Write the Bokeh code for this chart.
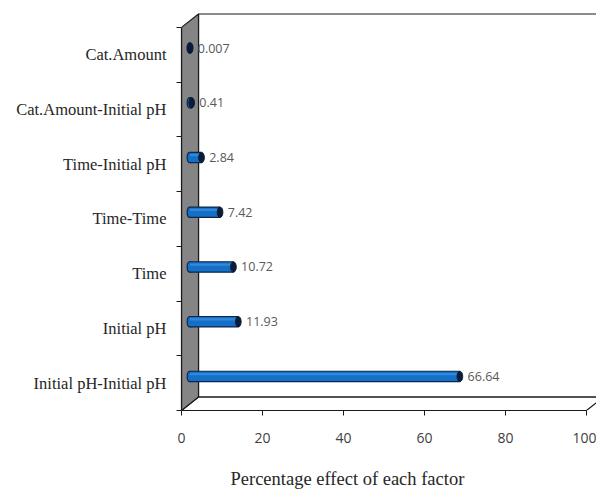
from bokeh.plotting import figure
from bokeh.models import FixedTicker, Range1d, Title, ColumnDataSource
from bokeh.core.properties import value
from bokeh.embed import file_html
from bokeh.resources import INLINE

# Factors from top to bottom of the chart and their percentage effects
factors = ["Cat.Amount", "Cat.Amount-Initial pH", "Time-Initial pH", "Time-Time",
           "Time", "Initial pH", "Initial pH-Initial pH"]
effects = [0.007, 0.41, 2.84, 7.42, 10.72, 11.93, 66.64]
effect_labels = ["0.007", "0.41", "2.84", "7.42", "10.72", "11.93", "66.64"]
x_ticks = [0, 20, 40, 60, 80, 100]

n = len(factors)
# bottom category sits at position 0
ypos = [n - 1 - i for i in range(n)]

# 3D box geometry (data units)
X0, X1 = 0.0, 100.0
Y0, Y1 = -0.5, n - 0.5
DX, DY = 4.2, 0.245          # depth of the box
MX, MY = DX / 2, DY / 2      # bars sit at mid depth

p = figure(width=596, height=494, output_backend="svg", toolbar_location=None,
           x_range=Range1d(0, 102.47), y_range=Range1d(Y0, 6.90),
           min_border_left=181, min_border_right=0, min_border_top=5,
           min_border_bottom=84)
p.outline_line_color = None
p.grid.grid_line_color = None
p.background_fill_color = "white"
p.border_fill_color = "white"

EDGE = "#1a1a1a"
# back wall
p.patch([X0 + DX, X1 + DX, X1 + DX, X0 + DX], [Y0 + DY, Y0 + DY, Y1 + DY, Y1 + DY],
        fill_color="white", line_color=EDGE, line_width=1.2)
# floor
p.patch([X0, X1, X1 + DX, X0 + DX], [Y0, Y0, Y0 + DY, Y0 + DY],
        fill_color="white", line_color=EDGE, line_width=1.2)
# left side wall
p.patch([X0, X0, X0 + DX, X0 + DX], [Y0, Y1, Y1 + DY, Y0 + DY],
        fill_color="#858585", line_color=EDGE, line_width=1.2)

# cylinder bars
bh = 0.19
src = ColumnDataSource(dict(
    y=[v + MY for v in ypos],
    ytop=[v + MY + bh / 2 for v in ypos],
    ybot=[v + MY - bh / 2 for v in ypos],
    left=[MX] * n,
    right=[e + MX for e in effects],
    lab=effect_labels,
    lx=[e + MX + 1.9 for e in effects],
))
BLUE, NAVY = "#136fc7", "#0d2747"
# rounded near end
p.ellipse(x="left", y="y", width=1.4, height=bh, source=src,
          fill_color=BLUE, line_color=NAVY, line_width=1.2)
# body
p.hbar(y="y", left="left", right="right", height=bh, source=src,
       fill_color=BLUE, line_color=None)
# lighter top sheen
p.hbar(y=[v + MY + bh * 0.22 for v in ypos], left=[MX] * n,
       right=[e + MX for e in effects], height=bh * 0.22,
       fill_color="#3d8fdc", line_color=None, fill_alpha=0.8)
# top and bottom edges of the cylinder
p.segment(x0="left", y0="ytop", x1="right", y1="ytop", source=src,
          line_color=NAVY, line_width=1.2)
p.segment(x0="left", y0="ybot", x1="right", y1="ybot", source=src,
          line_color=NAVY, line_width=1.2)
# dark far end cap
p.ellipse(x="right", y="y", width=1.4, height=bh, source=src,
          fill_color="#0b1d36", line_color="#0b1d36", line_width=1)

p.text(x="lx", y="y", text="lab", source=src, text_font=value("Open Sans"),
       text_font_size="12.5px", text_color="#595959", text_baseline="middle",
       text_align="left")

# x axis
xa = p.xaxis[0]
xa.ticker = FixedTicker(ticks=x_ticks)
xa.bounds = (X0, X1)
xa.axis_line_color = EDGE
xa.axis_line_width = 1.2
xa.major_tick_out = 5
xa.major_tick_in = 0
xa.major_tick_line_color = EDGE
xa.minor_tick_line_color = None
xa.major_label_standoff = 17
xa.major_label_text_font = "Open Sans"
xa.major_label_text_font_size = "14px"
xa.major_label_text_color = "#404040"

# axis title under the front face of the box (leading blank line sets it lower)
p.add_layout(Title(text="\nPercentage effect of each factor", align="left",
                   offset=49, standoff=0, vertical_align="top",
                   text_font="Liberation Serif", text_line_height=1.15,
                   text_font_size="18.5px", text_font_style="normal",
                   text_color="#262626"), "below")

# y axis: category names centred, ticks at category boundaries
ya = p.yaxis[0]
ya.ticker = FixedTicker(ticks=ypos, minor_ticks=[Y0 + k for k in range(n + 1)])
ya.major_label_overrides = {v: f for v, f in zip(ypos, factors)}
ya.bounds = (Y0, Y1)
ya.axis_line_color = EDGE
ya.axis_line_width = 1.2
ya.major_tick_line_color = None
ya.major_tick_out = 0
ya.major_tick_in = 0
ya.minor_tick_out = 5
ya.minor_tick_in = 0
ya.minor_tick_line_color = EDGE
ya.major_label_standoff = 10
ya.major_label_text_font = "Liberation Serif"
ya.major_label_text_font_size = "16.5px"
ya.major_label_text_color = "#262626"

open("out.html", "w").write(file_html(p, INLINE))
